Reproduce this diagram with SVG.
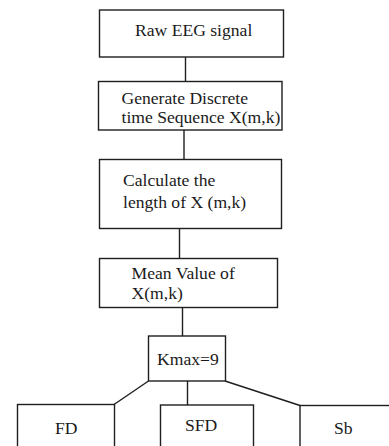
<svg xmlns="http://www.w3.org/2000/svg" width="389" height="446" viewBox="0 0 389 446">
<style>
.box{fill:#fff;stroke:#1e1e1e;stroke-width:1.4}
.con{stroke:#1e1e1e;stroke-width:1.4;fill:none}
text{font-family:"Liberation Serif","Times New Roman",serif;font-size:17.6px;fill:#1a1a1a}
</style>
<rect width="389" height="446" fill="#fff"/>
<g id="connectors">
<line class="con" x1="185.5" y1="57" x2="185.5" y2="81.5"/>
<line class="con" x1="184" y1="130" x2="184" y2="159.5"/>
<line class="con" x1="179.5" y1="228.5" x2="179.5" y2="258.5"/>
<line class="con" x1="182.5" y1="307.5" x2="182.5" y2="336"/>
<line class="con" x1="187.5" y1="381" x2="187.5" y2="405"/>
<line class="con" x1="148.5" y1="381" x2="114" y2="404.5"/>
<line class="con" x1="225" y1="381" x2="300" y2="405.5"/>
</g>
<g id="raw">
<rect class="box" x="99.5" y="10" width="184" height="47"/>
<text x="135" y="36">Raw EEG signal</text>
</g>
<g id="generate">
<rect class="box" x="98.5" y="81.5" width="183.5" height="48.5"/>
<text x="121.5" y="103.5">Generate Discrete</text>
<text x="121.5" y="122.5">time Sequence X(m,k)</text>
</g>
<g id="calculate">
<rect class="box" x="99.5" y="159.5" width="182" height="69"/>
<text x="123" y="186">Calculate the</text>
<text x="123" y="208">length of X (m,k)</text>
</g>
<g id="mean">
<rect class="box" x="99.5" y="258.5" width="178" height="49"/>
<text x="131.5" y="278.5">Mean Value of</text>
<text x="131.5" y="298.5">X(m,k)</text>
</g>
<g id="kmax">
<rect class="box" x="148.5" y="336" width="77" height="45"/>
<text x="157" y="365">Kmax=9</text>
</g>
<g id="fd">
<rect class="box" x="17.5" y="404.5" width="97" height="60"/>
<text x="55" y="434">FD</text>
</g>
<g id="sfd">
<rect class="box" x="160.5" y="405" width="93" height="60"/>
<text x="185" y="430.5">SFD</text>
</g>
<g id="sb">
<rect class="box" x="300" y="405.5" width="120" height="60"/>
<text x="334" y="433.5">Sb</text>
</g>
</svg>
